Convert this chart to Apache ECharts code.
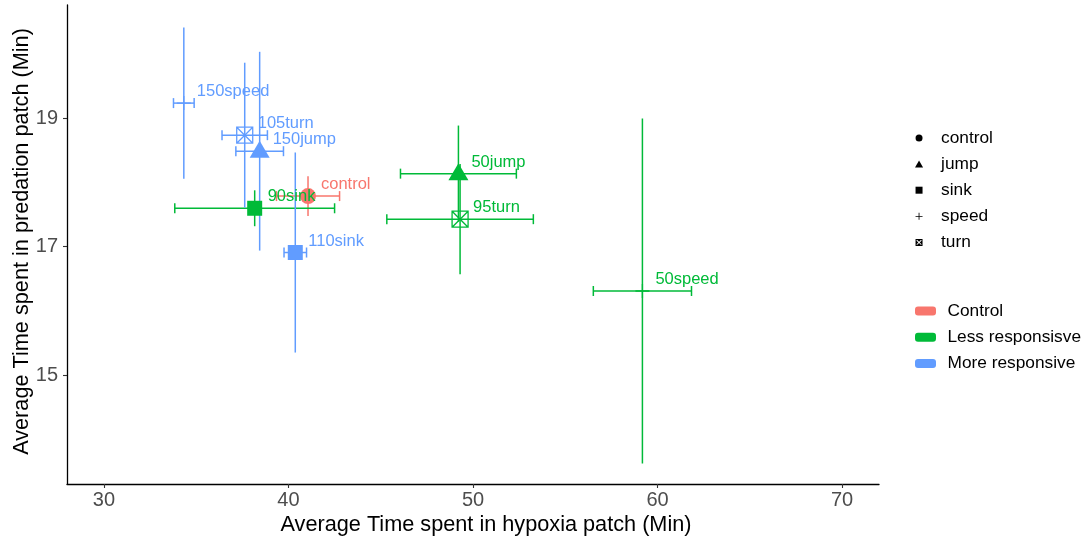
<!DOCTYPE html>
<html>
<head>
<meta charset="utf-8">
<script src="https://cdn.jsdelivr.net/npm/echarts@6/dist/echarts.min.js"></script>
<style>
html,body{margin:0;padding:0;background:#fff;}
#chart{width:1086px;height:541px;}
</style>
</head>
<body>
<div id="chart"></div>
<script>
// ---- data ----
const CATEGORIES = ['control','90sink','50jump','50speed','95turn','110sink','150jump','150speed','105turn'];
const GROUP_OF = ['Control','Less responsisve','Less responsisve','Less responsisve','Less responsisve','More responsive','More responsive','More responsive','More responsive'];
const SHAPE_OF = ['control','sink','jump','speed','turn','sink','jump','speed','turn'];
const X_MEAN = [41.06, 38.17, 49.21, 59.18, 49.30, 40.37, 38.44, 34.33, 37.63];
const Y_MEAN = [17.79, 17.60, 18.14, 16.31, 17.43, 16.91, 18.49, 19.24, 18.74];
const X_ERR  = [1.71, 4.33, 3.14, 2.66, 3.97, 0.61, 1.29, 0.56, 1.23];
const Y_ERR  = [0.31, 0.28, 0.75, 2.69, 0.86, 1.56, 1.55, 1.18, 1.13];
const GROUPS = ['Control','Less responsisve','More responsive'];
const SHAPES = ['control','jump','sink','speed','turn'];
const X_TICKS = [30, 40, 50, 60, 70];
const Y_TICKS = [15, 17, 19];

// ---- styling ----
const COLORS = {'Control':'#F8766D','Less responsisve':'#00BA38','More responsive':'#619CFF'};
const FONT = 'Liberation Sans, Arial, Helvetica, sans-serif';
const SYMBOL = {
  control: 'circle',
  jump: 'path://M5,0 L10,8.66 L0,8.66 Z',
  sink: 'path://M0,0 H10 V10 H0 Z',
  speed: 'path://M5,0 L5,10 M0,5 L10,5',
  turn: 'path://M0,0 H10 V10 H0 Z M0,0 L10,10 M10,0 L0,10'
};
const SIZE = {control:16, jump:[20,17], sink:15, speed:14, turn:16};
const OFFSET = {control:[0,0], jump:[0,-2], sink:[0,0], speed:[0,0], turn:[0,0]};
const LEGEND_ICON = {
  control: 'circle',
  jump: 'path://M5,0 L10,8.66 L0,8.66 Z',
  sink: 'path://M0,0 H10 V10 H0 Z',
  speed: 'path://M4.4,0 H5.6 V4.4 H10 V5.6 H5.6 V10 H4.4 V5.6 H0 V4.4 H4.4 Z',
  turn: 'path://M0,0 H10 V10 H0 Z M1.5,1.5 V8.5 H8.5 V1.5 Z M2.5,1.5 L5,4 L7.5,1.5 Z M8.5,2.5 L6,5 L8.5,7.5 Z M7.5,8.5 L5,6 L2.5,8.5 Z M1.5,7.5 L4,5 L1.5,2.5 Z'
};
const ROUNDRECT = 'path://M3,0 L18,0 Q21,0 21,3 L21,6 Q21,9 18,9 L3,9 Q0,9 0,6 L0,3 Q0,0 3,0 Z';

const idx = CATEGORIES.map((_, i) => i);

function pointItem(i) {
  const shape = SHAPE_OF[i];
  const c = COLORS[GROUP_OF[i]];
  const stroked = (shape === 'turn' || shape === 'speed');
  return {
    name: CATEGORIES[i],
    value: [X_MEAN[i], Y_MEAN[i]],
    symbol: SYMBOL[shape],
    symbolSize: SIZE[shape],
    symbolOffset: OFFSET[shape],
    itemStyle: stroked ? {color: 'rgba(0,0,0,0)', borderColor: c, borderWidth: 1.3, opacity: 1}
                       : {color: c, borderWidth: 0, opacity: 1}
  };
}

const errorSeries = {
  type: 'custom',
  name: 'errorbars',
  silent: true,
  z: 1,
  data: idx.map(i => [X_MEAN[i], Y_MEAN[i], X_ERR[i], Y_ERR[i], GROUPS.indexOf(GROUP_OF[i])]),
  encode: {x: 0, y: 1},
  renderItem: function (params, api) {
    const x = api.value(0), y = api.value(1), xe = api.value(2), ye = api.value(3);
    const c = COLORS[GROUPS[api.value(4)]];
    const v1 = api.coord([x, y - ye]), v2 = api.coord([x, y + ye]);
    const h1 = api.coord([x - xe, y]), h2 = api.coord([x + xe, y]);
    const cap = 5;
    const st = {stroke: c, lineWidth: 1.5, fill: null};
    return {
      type: 'group',
      children: [
        {type: 'line', shape: {x1: v1[0], y1: v1[1], x2: v2[0], y2: v2[1]}, style: st},
        {type: 'line', shape: {x1: h1[0], y1: h1[1], x2: h2[0], y2: h2[1]}, style: st},
        {type: 'line', shape: {x1: h1[0], y1: h1[1] - cap, x2: h1[0], y2: h1[1] + cap}, style: st},
        {type: 'line', shape: {x1: h2[0], y1: h2[1] - cap, x2: h2[0], y2: h2[1] + cap}, style: st}
      ]
    };
  }
};

const groupSeries = GROUPS.map(g => ({
  type: 'scatter',
  name: g,
  z: 3,
  silent: true,
  itemStyle: {color: COLORS[g], opacity: 1},
  data: idx.filter(i => GROUP_OF[i] === g).map(pointItem)
}));

const shapeSeries = SHAPES.map(s => ({
  type: 'scatter',
  name: s,
  symbol: LEGEND_ICON[s],
  itemStyle: {color: '#000', opacity: 1},
  data: []
}));

const labelSeries = {
  type: 'scatter',
  name: 'labels',
  z: 5,
  silent: true,
  symbolSize: 0,
  itemStyle: {color: 'rgba(0,0,0,0)', opacity: 1},
  label: {
    show: true,
    position: 'inside',
    align: 'left',
    verticalAlign: 'middle',
    offset: [13, -11.5],
    fontSize: 16.5,
    fontFamily: FONT,
    opacity: 1,
    formatter: p => p.name
  },
  data: idx.map(i => ({
    name: CATEGORIES[i],
    value: [X_MEAN[i], Y_MEAN[i]],
    label: {color: COLORS[GROUP_OF[i]], opacity: 1}
  }))
};

const chart = echarts.init(document.getElementById('chart'), null, {renderer: 'canvas'});
chart.setOption({
  animation: false,
  backgroundColor: '#fff',
  textStyle: {fontFamily: FONT},
  grid: {left: 67, top: 5, width: 812, height: 479, containLabel: false, outerBoundsMode: 'none'},
  xAxis: {
    type: 'value',
    min: 28, max: 72,
    name: 'Average Time spent in hypoxia patch (Min)',
    nameLocation: 'middle',
    nameGap: 30,
    nameMoveOverlap: false,
    nameTextStyle: {fontSize: 21.7, color: '#000', fontFamily: FONT, padding: [0, 0, 0, 26]},
    splitLine: {show: false},
    axisLine: {show: true, onZero: false, lineStyle: {color: '#000', width: 1.3}},
    axisTick: {show: true, length: 4, customValues: X_TICKS, lineStyle: {color: '#333', width: 1.1}},
    axisLabel: {customValues: X_TICKS, fontSize: 20, color: '#4D4D4D', margin: 6, fontFamily: FONT}
  },
  yAxis: {
    type: 'value',
    min: 13.30, max: 20.77,
    name: 'Average Time spent in predation patch (Min)',
    nameLocation: 'middle',
    nameGap: 34,
    nameMoveOverlap: false,
    nameTextStyle: {fontSize: 21.7, color: '#000', fontFamily: FONT, padding: [0, 0, 0, 6]},
    splitLine: {show: false},
    axisLine: {show: true, onZero: false, lineStyle: {color: '#000', width: 1.3}},
    axisTick: {show: true, length: 4, customValues: Y_TICKS, lineStyle: {color: '#333', width: 1.1}},
    axisLabel: {customValues: Y_TICKS, fontSize: 20, color: '#4D4D4D', margin: 9, fontFamily: FONT}
  },
  legend: [
    {
      orient: 'vertical',
      left: 910, top: 124.5,
      itemWidth: 34, itemHeight: 7,
      itemGap: 9.1,
      selectedMode: false,
      textStyle: {fontSize: 17.3, color: '#000', fontFamily: FONT},
      data: SHAPES.map(s => ({name: s, icon: LEGEND_ICON[s]}))
    },
    {
      orient: 'vertical',
      left: 910, top: 297.5,
      itemWidth: 34, itemHeight: 9,
      itemGap: 9.3,
      selectedMode: false,
      textStyle: {fontSize: 17.3, color: '#000', fontFamily: FONT},
      data: GROUPS.map(g => ({name: g, icon: ROUNDRECT, itemStyle: {color: COLORS[g], borderWidth: 0, opacity: 1}}))
    }
  ],
  series: [errorSeries].concat(groupSeries, shapeSeries, [labelSeries])
});
</script>
</body>
</html>
